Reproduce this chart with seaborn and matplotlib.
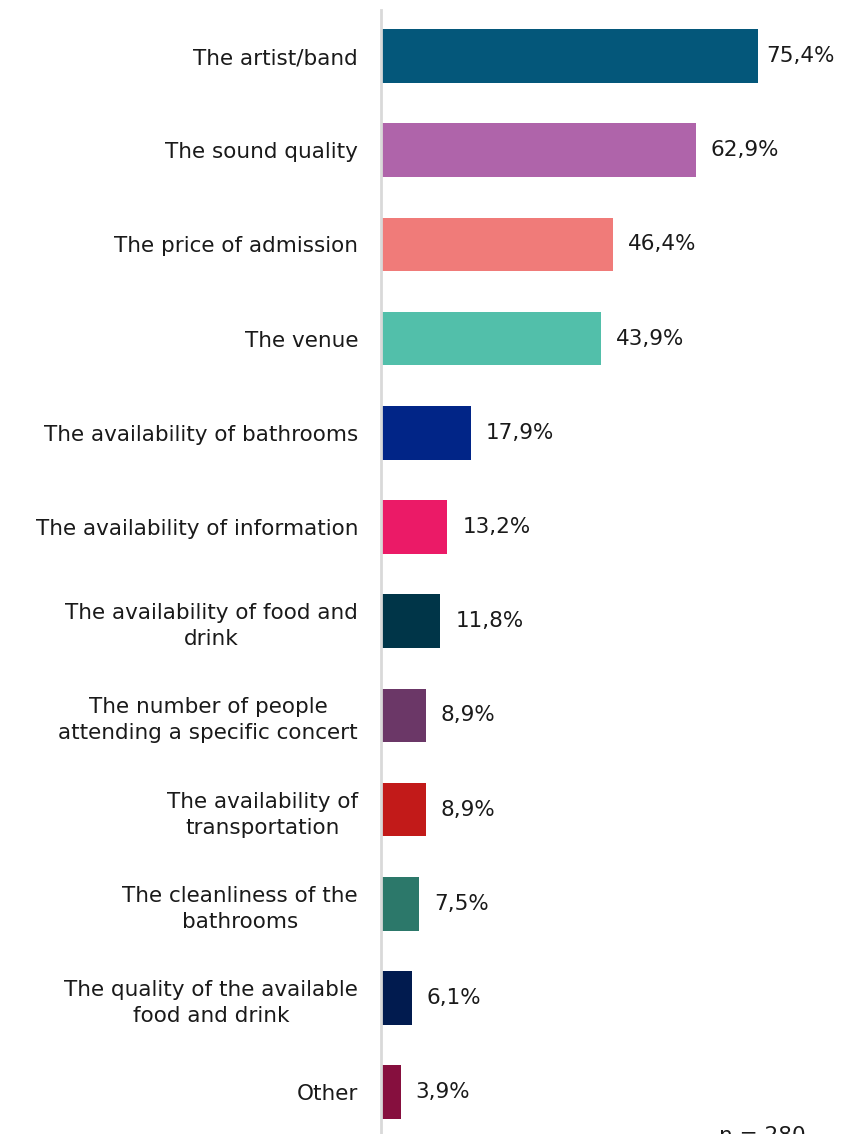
import matplotlib
matplotlib.use("Agg")
import matplotlib.pyplot as plt
import seaborn as sns
import pandas as pd

categories = [
    "The artist/band",
    "The sound quality",
    "The price of admission",
    "The venue",
    "The availability of bathrooms",
    "The availability of information",
    "The availability of food and\ndrink",
    "The number of people\nattending a specific concert",
    "The availability of\ntransportation",
    "The cleanliness of the\nbathrooms",
    "The quality of the available\nfood and drink",
    "Other",
]
values = [75.4, 62.9, 46.4, 43.9, 17.9, 13.2, 11.8, 8.9, 8.9, 7.5, 6.1, 3.9]
colors = [
    "#04577A", "#AF64AA", "#F07B79", "#52BFAA", "#012587", "#EB1A67",
    "#003548", "#6B3767", "#C21A19", "#2C786A", "#011B4F", "#860F3E",
]
note = "n = 280"

df = pd.DataFrame({"category": categories, "value": values})

sns.set_theme(style="white")
plt.rcParams["font.family"] = ["DejaVu Sans"]

W, H = 849, 1134
FS = 15.5
fig = plt.figure(figsize=(W / 100, H / 100), dpi=100)
ax = fig.add_axes([381 / W, 0.0, 1 - 381 / W, 1 - 10 / H])

sns.barplot(
    data=df, y="category", x="value", hue="category",
    palette=colors, legend=False, width=0.57, ax=ax, saturation=1,
    linewidth=0,
)

xmax = (W - 381) / 5.0
ax.set_xlim(0, xmax)
ax.set_ylim((1134 - 56) / 94.2, (10 - 56) / 94.2)

for cont in ax.containers:
    v = cont.datavalues[0]
    # tighter gap for the longest bar so its label stays inside the figure
    pad = 6.0 if v > 0.78 * xmax else 11.0
    ax.bar_label(
        cont,
        labels=[f"{v:.1f}%".replace(".", ",")],
        padding=pad, fontsize=FS, color="#1a1a1a",
    )

ax.set_xlabel("")
ax.set_ylabel("")
ax.set_xticks([])
ax.tick_params(axis="y", length=0, pad=16.5, labelsize=FS, labelcolor="#1a1a1a")
for lbl in ax.get_yticklabels():
    lbl.set_multialignment("center")
    lbl.set_linespacing(1.38)

for s in ["top", "right", "bottom"]:
    ax.spines[s].set_visible(False)
ax.spines["left"].set_color("#d9d9d9")
ax.spines["left"].set_linewidth(2)

fig.text(806 / W, 1 - 1142 / H, note, ha="right", va="baseline",
         fontsize=FS, color="#1a1a1a")

fig.savefig("out.png", dpi=100)
